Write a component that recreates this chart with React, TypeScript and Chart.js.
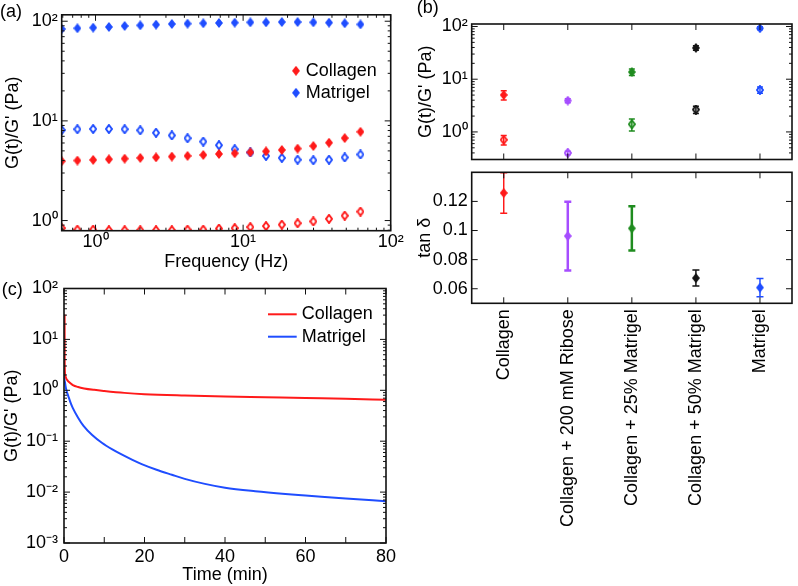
import React, { useEffect, useRef } from 'react';
import { Chart, registerables } from 'chart.js';

Chart.register(...registerables);

const FONT_FAMILY = "'Liberation Sans', Arial, Helvetica, sans-serif";
Chart.defaults.font.family = FONT_FAMILY;
Chart.defaults.font.size = 18;
Chart.defaults.color = '#000';

const RED = '#ff1a1a';
const BLUE = '#1f4dff';
const PURPLE = '#a64dff';
const GREEN = '#1f8c1f';
const BLACK = '#141414';

// ---------- Panel (a): frequency sweep ----------
const freqHz = [0.59, 0.754, 0.964, 1.232, 1.575, 2.01, 2.57, 3.29, 4.2, 5.37, 6.86, 8.77, 11.2, 14.3, 18.3, 23.4, 29.9, 38.2, 48.8, 62.4];
const collagenStorage = [3.94, 4.0, 4.06, 4.12, 4.18, 4.25, 4.31, 4.38, 4.45, 4.55, 4.66, 4.73, 4.84, 4.95, 5.11, 5.27, 5.59, 6.04, 6.72, 7.77];
const collagenLoss = [0.84, 0.81, 0.81, 0.8, 0.8, 0.8, 0.8, 0.8, 0.81, 0.81, 0.83, 0.84, 0.86, 0.88, 0.91, 0.94, 0.98, 1.04, 1.12, 1.23];
const matrigelStorage = [83.6, 84.9, 86.2, 87.6, 89.6, 90.9, 92.4, 93.9, 94.6, 95.3, 96.0, 96.8, 97.5, 97.5, 98.2, 98.2, 97.5, 96.8, 95.3, 92.9];
const matrigelLoss = [8.1, 8.25, 8.3, 8.3, 8.25, 8.05, 7.6, 7.15, 6.7, 6.2, 5.7, 5.2, 4.82, 4.45, 4.25, 4.08, 4.03, 4.08, 4.3, 4.6];
const legendA = ['Collagen', 'Matrigel'];

// ---------- Panel (b): summary ----------
const sampleNames = ['Collagen', 'Collagen + 200 mM Ribose', 'Collagen + 25% Matrigel', 'Collagen + 50% Matrigel', 'Matrigel'];
const sampleColors = [RED, PURPLE, GREEN, BLACK, BLUE];
const storageMean = [5.03, 3.93, 13.7, 39.3, 92.5];
const storageErr = [1.0, 0.35, 2.0, 4.0, 6.0];
const lossMean = [0.71, 0.4, 1.4, 2.66, 6.26];
const lossErr = [0.145, 0.03, 0.36, 0.42, 0.85];
const tanDelta = [0.1258, 0.0962, 0.1015, 0.0673, 0.0608];
const tanDeltaErr = [0.0139, 0.0236, 0.0152, 0.0055, 0.0063];
const tanTicks = [0.06, 0.08, 0.1, 0.12];

// ---------- Panel (c): stress relaxation ----------
const timeCollagen = [0.15, 0.17, 0.3, 0.6, 1, 1.5, 2.2, 3.5, 5, 7.5, 10, 15, 20, 30, 40, 50, 60, 70, 80];
const relaxCollagen = [31, 3.5, 1.95, 1.68, 1.52, 1.4, 1.27, 1.16, 1.09, 1.02, 0.97, 0.89, 0.84, 0.79, 0.755, 0.73, 0.705, 0.685, 0.65];
const timeMatrigel = [0, 0.05, 0.25, 0.6, 1.07, 1.6, 2.2, 3.5, 4.85, 7, 9.4, 12, 14.3, 17, 19.3, 23, 26.8, 30, 35, 40, 47.5, 55, 60, 70, 80];
const relaxMatrigel = [3.2, 2.0, 1.42, 1.0, 0.77, 0.58, 0.447, 0.29, 0.2, 0.132, 0.093, 0.069, 0.055, 0.043, 0.0355, 0.0275, 0.0219, 0.0182, 0.0145, 0.0122, 0.0104, 0.0092, 0.0086, 0.0075, 0.0066];
const timeTicks = [0, 20, 40, 60, 80];
const timeMinorTicks = [0, 10, 20, 30, 40, 50, 60, 70, 80];
const legendC = ['Collagen', 'Matrigel'];

const W = 798;
const H = 586;

const SUP: Record<string, string> = { '-': '\u207B', '0': '\u2070', '1': '\u00B9', '2': '\u00B2', '3': '\u00B3' };
const pow10Label = (v: number) => {
  const e = Math.round(Math.log10(v));
  return '10' + String(e).split('').map((c) => SUP[c] || c).join('');
};
const logMajor = (min: number, max: number) => {
  const out: number[] = [];
  for (let e = Math.floor(Math.log10(min)); e <= Math.ceil(Math.log10(max)); e++) {
    const v = Math.pow(10, e);
    if (v >= min * 0.999 && v <= max * 1.001) out.push(v);
  }
  return out;
};
const logMinor = (min: number, max: number) => {
  const out: number[] = [];
  for (let e = Math.floor(Math.log10(min)); e <= Math.ceil(Math.log10(max)); e++) {
    for (let k = 2; k <= 9; k++) {
      const v = k * Math.pow(10, e);
      if (v >= min && v <= max) out.push(v);
    }
  }
  return out;
};

function diamond(color: string, filled: boolean, w = 8, h = 10): HTMLCanvasElement {
  const c = document.createElement('canvas');
  c.width = w;
  c.height = h;
  const g = c.getContext('2d')!;
  g.beginPath();
  if (filled) {
    g.moveTo(w / 2, 0);
    g.lineTo(w, h / 2);
    g.lineTo(w / 2, h);
    g.lineTo(0, h / 2);
    g.closePath();
    g.fillStyle = color;
    g.fill();
  } else {
    const i = 1;
    g.moveTo(w / 2, i);
    g.lineTo(w - i, h / 2);
    g.lineTo(w / 2, h - i);
    g.lineTo(i, h / 2);
    g.closePath();
    g.strokeStyle = color;
    g.lineWidth = 2;
    g.stroke();
  }
  return c;
}

const framePlugin = {
  id: 'frame',
  afterDraw(chart: any, _a: any, opts: any) {
    const { ctx, chartArea } = chart;
    const { left, top, right, bottom } = chartArea;
    const xs = chart.scales.x;
    const ys = chart.scales.y;
    ctx.save();
    ctx.strokeStyle = '#111';
    ctx.lineWidth = 1;
    ctx.beginPath();
    const addX = (vals: number[], len: number) =>
      vals.forEach((v) => {
        const p = xs.getPixelForValue(v);
        if (p < left - 1 || p > right + 1) return;
        ctx.moveTo(p, bottom);
        ctx.lineTo(p, bottom - len);
        ctx.moveTo(p, top);
        ctx.lineTo(p, top + len);
      });
    const addY = (vals: number[], len: number) =>
      vals.forEach((v) => {
        const p = ys.getPixelForValue(v);
        if (p < top - 1 || p > bottom + 1) return;
        ctx.moveTo(left, p);
        ctx.lineTo(left + len, p);
        ctx.moveTo(right, p);
        ctx.lineTo(right - len, p);
      });
    addX(opts.xMajor || [], 6);
    addX(opts.xMinor || [], 3);
    addY(opts.yMajor || [], 6);
    addY(opts.yMinor || [], 3);
    ctx.stroke();
    ctx.lineWidth = 1.6;
    ctx.strokeRect(left, top, right - left, bottom - top);
    ctx.restore();
  },
};

const errorBarPlugin = {
  id: 'errorBars',
  beforeDatasetsDraw(chart: any, _a: any, opts: any) {
    if (!opts.bars) return;
    const { ctx, chartArea } = chart;
    const ys = chart.scales.y;
    ctx.save();
    ctx.beginPath();
    ctx.rect(chartArea.left, chartArea.top, chartArea.right - chartArea.left, chartArea.bottom - chartArea.top);
    ctx.clip();
    opts.bars.forEach((b: any) => {
      const meta = chart.getDatasetMeta(b.dataset);
      const values = chart.data.datasets[b.dataset].data;
      meta.data.forEach((pt: any, i: number) => {
        const v = values[i];
        const e = b.errors[i];
        const y1 = ys.getPixelForValue(v + e);
        const y2 = ys.getPixelForValue(Math.max(v - e, 1e-9));
        ctx.strokeStyle = b.colors[i];
        ctx.lineWidth = Array.isArray(b.width) ? b.width[i] : b.width;
        ctx.beginPath();
        ctx.moveTo(pt.x, y1);
        ctx.lineTo(pt.x, y2);
        ctx.moveTo(pt.x - b.cap / 2, y1);
        ctx.lineTo(pt.x + b.cap / 2, y1);
        ctx.moveTo(pt.x - b.cap / 2, y2);
        ctx.lineTo(pt.x + b.cap / 2, y2);
        ctx.stroke();
      });
    });
    ctx.restore();
  },
};

const legendPlugin = {
  id: 'inlineLegend',
  afterDraw(chart: any, _a: any, opts: any) {
    if (!opts.items) return;
    const { ctx, chartArea } = chart;
    ctx.save();
    ctx.font = `18px ${FONT_FAMILY}`;
    ctx.textBaseline = 'middle';
    ctx.textAlign = 'left';
    opts.items.forEach((it: any) => {
      const x = chartArea.left + it.dx;
      const y = chartArea.top + it.dy;
      if (it.marker) ctx.drawImage(it.marker, x - it.marker.width / 2, y - it.marker.height / 2);
      if (it.lineColor) {
        ctx.strokeStyle = it.lineColor;
        ctx.lineWidth = 2;
        ctx.beginPath();
        ctx.moveTo(x, y);
        ctx.lineTo(x + it.lineLength, y);
        ctx.stroke();
      }
      ctx.fillStyle = '#000';
      ctx.fillText(it.text, chartArea.left + it.textDx, y);
    });
    ctx.restore();
  },
};

const hiddenGrid = { display: false, drawTicks: false };
const noBorder = { display: false };
const titleFont = { family: FONT_FAMILY, size: 18 };

export default function App() {
  const refA = useRef<HTMLCanvasElement>(null);
  const refB1 = useRef<HTMLCanvasElement>(null);
  const refB2 = useRef<HTMLCanvasElement>(null);
  const refC = useRef<HTMLCanvasElement>(null);

  useEffect(() => {
    const charts: Chart[] = [];
    const base = { responsive: false, animation: false as const, devicePixelRatio: 1 };

    // ----- (a)
    const aX = { min: 0.59, max: 100 };
    const aY = { min: 0.791, max: 116 };
    charts.push(
      new Chart(refA.current!, {
        type: 'scatter',
        data: {
          datasets: [
            { label: "Collagen G'", data: freqHz.map((x, i) => ({ x, y: collagenStorage[i] })), pointStyle: diamond(RED, true), pointRadius: 5 },
            { label: "Collagen G''", data: freqHz.map((x, i) => ({ x, y: collagenLoss[i] })), pointStyle: diamond(RED, false), pointRadius: 5 },
            { label: "Matrigel G'", data: freqHz.map((x, i) => ({ x, y: matrigelStorage[i] })), pointStyle: diamond(BLUE, true), pointRadius: 5 },
            { label: "Matrigel G''", data: freqHz.map((x, i) => ({ x, y: matrigelLoss[i] })), pointStyle: diamond(BLUE, false), pointRadius: 5 },
          ],
        },
        options: {
          ...base,
          layout: { padding: { left: 2.5, top: 13, right: W - 390.7, bottom: H - 272.5 } },
          scales: {
            x: {
              type: 'logarithmic', position: 'bottom', ...aX,
              afterBuildTicks: (s: any) => { s.ticks = logMajor(aX.min, aX.max).map((value) => ({ value })); },
              afterFit: (s: any) => { s.height = 272.5 - 230.7; },
              ticks: { callback: (v: any) => pow10Label(Number(v)), padding: 1, autoSkip: false, maxRotation: 0 },
              grid: hiddenGrid, border: noBorder,
              title: { display: true, text: 'Frequency (Hz)', padding: 0, font: titleFont },
            },
            y: {
              type: 'logarithmic', position: 'left', ...aY,
              afterBuildTicks: (s: any) => { s.ticks = logMajor(aY.min, aY.max).map((value) => ({ value })); },
              afterFit: (s: any) => { s.width = 61.7 - 2.5; },
              ticks: { callback: (v: any) => pow10Label(Number(v)), padding: 4, autoSkip: false },
              grid: hiddenGrid, border: noBorder,
              title: { display: true, text: "G(t)/G' (Pa)", padding: 0, font: titleFont },
            },
          },
          plugins: {
            legend: { display: false }, tooltip: { enabled: false },
            frame: { xMajor: logMajor(aX.min, aX.max), xMinor: logMinor(aX.min, aX.max), yMajor: logMajor(aY.min, aY.max), yMinor: logMinor(aY.min, aY.max) },
            inlineLegend: {
              items: [
                { dx: 234.3, dy: 56, marker: diamond(RED, true), text: legendA[0], textDx: 244 },
                { dx: 234.3, dy: 78, marker: diamond(BLUE, true), text: legendA[1], textDx: 244 },
              ],
            },
          } as any,
        },
        plugins: [framePlugin, legendPlugin],
      } as any)
    );

    // ----- (b) top
    const bY = { min: 0.309, max: 111.5 };
    charts.push(
      new Chart(refB1.current!, {
        type: 'line',
        data: {
          labels: sampleNames,
          datasets: [
            { label: "G'", data: storageMean, showLine: false, pointStyle: sampleColors.map((c) => diamond(c, true)), pointRadius: 5 },
            { label: "G''", data: lossMean, showLine: false, pointStyle: sampleColors.map((c) => diamond(c, false)), pointRadius: 5 },
          ],
        },
        options: {
          ...base,
          layout: { padding: { left: 415, top: 24, right: W - 796.5, bottom: H - 159.5 } },
          scales: {
            x: {
              type: 'category', offset: true,
              ticks: { display: false }, grid: hiddenGrid, border: noBorder,
              afterFit: (s: any) => { s.height = 0; },
            },
            y: {
              type: 'logarithmic', ...bY,
              afterBuildTicks: (s: any) => { s.ticks = logMajor(bY.min, bY.max).map((value) => ({ value })); },
              afterFit: (s: any) => { s.width = 471.7 - 415; },
              ticks: { callback: (v: any) => pow10Label(Number(v)), padding: 4, autoSkip: false },
              grid: hiddenGrid, border: noBorder,
              title: { display: true, text: "G(t)/G' (Pa)", padding: 0, font: titleFont },
            },
          },
          plugins: {
            legend: { display: false }, tooltip: { enabled: false },
            frame: { xMajor: [0, 1, 2, 3, 4], yMajor: logMajor(bY.min, bY.max), yMinor: logMinor(bY.min, bY.max) },
            errorBars: {
              bars: [
                { dataset: 0, errors: storageErr, colors: sampleColors, width: 1.5, cap: 6 },
                { dataset: 1, errors: lossErr, colors: sampleColors, width: 1.5, cap: 6 },
              ],
            },
          } as any,
        },
        plugins: [framePlugin, errorBarPlugin],
      } as any)
    );

    // ----- (b) bottom
    const tY = { min: 0.05, max: 0.14 };
    charts.push(
      new Chart(refB2.current!, {
        type: 'line',
        data: {
          labels: sampleNames,
          datasets: [
            { label: 'tan \u03B4', data: tanDelta, showLine: false, pointStyle: sampleColors.map((c) => diamond(c, true)), pointRadius: 5 },
          ],
        },
        options: {
          ...base,
          layout: { padding: { left: 414.2, top: 172.3, right: W - 796.5, bottom: 0 } },
          scales: {
            x: {
              type: 'category', offset: true,
              ticks: { minRotation: 90, maxRotation: 90, autoSkip: false, padding: 6 },
              grid: hiddenGrid, border: noBorder,
              afterFit: (s: any) => { s.height = H - 303.3; },
            },
            y: {
              type: 'linear', ...tY,
              afterBuildTicks: (s: any) => { s.ticks = tanTicks.map((value) => ({ value })); },
              afterFit: (s: any) => { s.width = 471.7 - 414.2; },
              ticks: { callback: (v: any) => String(Number(Number(v).toFixed(2))), padding: 4, autoSkip: false },
              grid: hiddenGrid, border: noBorder,
              title: { display: true, text: 'tan \u03B4', padding: 0, font: titleFont },
            },
          },
          plugins: {
            legend: { display: false }, tooltip: { enabled: false },
            frame: { xMajor: [0, 1, 2, 3, 4], yMajor: tanTicks },
            errorBars: {
              bars: [{ dataset: 0, errors: tanDeltaErr, colors: sampleColors, width: [1.5, 2.5, 2.5, 1.5, 1.5], cap: 7 }],
            },
          } as any,
        },
        plugins: [framePlugin, errorBarPlugin],
      } as any)
    );

    // ----- (c)
    const cY = { min: 1e-3, max: 100 };
    charts.push(
      new Chart(refC.current!, {
        type: 'line',
        data: {
          datasets: [
            { label: legendC[0], data: timeCollagen.map((x, i) => ({ x, y: relaxCollagen[i] })), borderColor: RED, borderWidth: 2, pointRadius: 0, cubicInterpolationMode: 'monotone', fill: false },
            { label: legendC[1], data: timeMatrigel.map((x, i) => ({ x, y: relaxMatrigel[i] })), borderColor: BLUE, borderWidth: 2, pointRadius: 0, cubicInterpolationMode: 'monotone', fill: false },
          ],
        },
        options: {
          ...base,
          layout: { padding: { left: 1.2, top: 288.5, right: W - 386, bottom: 0.2 } },
          scales: {
            x: {
              type: 'linear', min: 0, max: 80,
              afterBuildTicks: (s: any) => { s.ticks = timeTicks.map((value) => ({ value })); },
              afterFit: (s: any) => { s.height = 585.8 - 543; },
              ticks: { padding: 3, autoSkip: false, maxRotation: 0 },
              grid: hiddenGrid, border: noBorder,
              title: { display: true, text: 'Time (min)', padding: 0, font: titleFont },
            },
            y: {
              type: 'logarithmic', ...cY,
              afterBuildTicks: (s: any) => { s.ticks = logMajor(cY.min, cY.max).map((value) => ({ value })); },
              afterFit: (s: any) => { s.width = 64 - 1.2; },
              ticks: { callback: (v: any) => pow10Label(Number(v)), padding: 6, autoSkip: false },
              grid: hiddenGrid, border: noBorder,
              title: { display: true, text: "G(t)/G' (Pa)", padding: 0, font: titleFont },
            },
          },
          plugins: {
            legend: { display: false }, tooltip: { enabled: false },
            frame: { xMajor: timeMinorTicks, yMajor: logMajor(cY.min, cY.max), yMinor: logMinor(cY.min, cY.max) },
            inlineLegend: {
              items: [
                { dx: 204, dy: 25.8, lineColor: RED, lineLength: 28.7, text: legendC[0], textDx: 237.7 },
                { dx: 204, dy: 48.2, lineColor: BLUE, lineLength: 28.7, text: legendC[1], textDx: 237.7 },
              ],
            },
          } as any,
        },
        plugins: [framePlugin, legendPlugin],
      } as any)
    );

    return () => charts.forEach((c) => c.destroy());
  }, []);

  const canvasStyle: React.CSSProperties = { position: 'absolute', left: 0, top: 0, width: W, height: H, display: 'block' };
  const labelStyle: React.CSSProperties = { position: 'absolute', font: `18px ${FONT_FAMILY}`, lineHeight: '20px', color: '#000', whiteSpace: 'nowrap' };

  return (
    <div style={{ position: 'fixed', left: 0, top: 0, width: W, height: H, background: '#fff', overflow: 'hidden' }}>
      <canvas ref={refA} width={W} height={H} style={canvasStyle} />
      <canvas ref={refB1} width={W} height={H} style={canvasStyle} />
      <canvas ref={refB2} width={W} height={H} style={canvasStyle} />
      <canvas ref={refC} width={W} height={H} style={canvasStyle} />
      <div style={{ ...labelStyle, left: 0, top: 1 }}>(a)</div>
      <div style={{ ...labelStyle, left: 416.7, top: -3 }}>(b)</div>
      <div style={{ ...labelStyle, left: 1.7, top: 279 }}>(c)</div>
    </div>
  );
}
